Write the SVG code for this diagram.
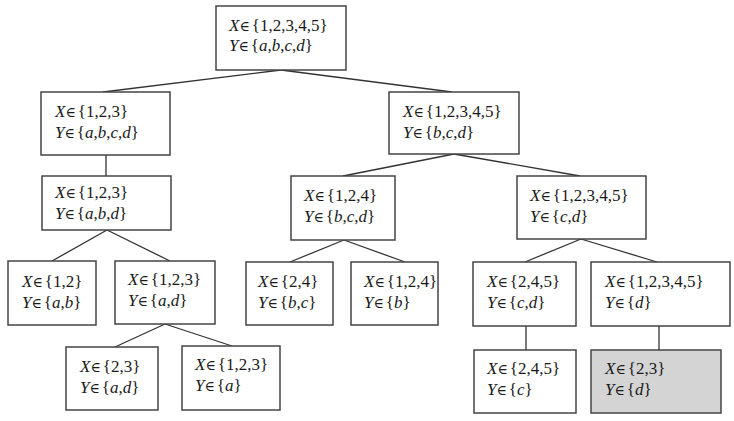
<svg xmlns="http://www.w3.org/2000/svg" width="734" height="421" viewBox="0 0 734 421">
<style>
.b{fill:#fff;stroke:#444;stroke-width:1.5}
.g{fill:#d4d4d4;stroke:#444;stroke-width:1.5}
.t{font-family:"Liberation Serif","Times New Roman",serif;font-size:17px;fill:#1a1a1a}
.i{font-style:italic}
.e{font-family:"DejaVu Serif",serif;font-size:14px}
.c line{stroke:#333;stroke-width:1.3}
</style>
<rect width="734" height="421" fill="#fff"/>
<g class="c" id="connectors">
<line x1="281" y1="70" x2="103" y2="92"/>
<line x1="281" y1="70" x2="452" y2="92"/>
<line x1="106" y1="155" x2="106" y2="176"/>
<line x1="454" y1="154" x2="343" y2="176"/>
<line x1="454" y1="154" x2="580" y2="176"/>
<line x1="107" y1="230" x2="52" y2="261"/>
<line x1="107" y1="230" x2="170" y2="261"/>
<line x1="344" y1="240" x2="290" y2="262"/>
<line x1="344" y1="240" x2="405" y2="262"/>
<line x1="581" y1="239" x2="525" y2="262"/>
<line x1="581" y1="239" x2="657" y2="262"/>
<line x1="165" y1="324" x2="115" y2="347"/>
<line x1="165" y1="324" x2="232" y2="346"/>
<line x1="526" y1="326" x2="526" y2="350"/>
<line x1="659" y1="326" x2="659" y2="350"/>
</g>
<g id="n0"><rect class="b" x="216" y="6" width="130" height="64"/>
<text class="t" x="229" y="31"><tspan class="i">X</tspan><tspan class="e">∈</tspan><tspan dx="2">{1,2,3,4,5}</tspan></text>
<text class="t" x="229" y="51"><tspan class="i">Y</tspan><tspan class="e">∈</tspan><tspan dx="2">{</tspan><tspan class="i">a</tspan>,<tspan class="i">b</tspan>,<tspan class="i">c</tspan>,<tspan class="i">d</tspan>}</text></g>
<g id="n1"><rect class="b" x="41" y="92" width="129" height="63"/>
<text class="t" x="55" y="117"><tspan class="i">X</tspan><tspan class="e">∈</tspan><tspan dx="2">{1,2,3}</tspan></text>
<text class="t" x="55" y="138"><tspan class="i">Y</tspan><tspan class="e">∈</tspan><tspan dx="2">{</tspan><tspan class="i">a</tspan>,<tspan class="i">b</tspan>,<tspan class="i">c</tspan>,<tspan class="i">d</tspan>}</text></g>
<g id="n2"><rect class="b" x="389" y="92" width="130" height="62"/>
<text class="t" x="403" y="117"><tspan class="i">X</tspan><tspan class="e">∈</tspan><tspan dx="2">{1,2,3,4,5}</tspan></text>
<text class="t" x="403" y="138"><tspan class="i">Y</tspan><tspan class="e">∈</tspan><tspan dx="2">{</tspan><tspan class="i">b</tspan>,<tspan class="i">c</tspan>,<tspan class="i">d</tspan>}</text></g>
<g id="n3"><rect class="b" x="42" y="176" width="129" height="54"/>
<text class="t" x="55" y="198"><tspan class="i">X</tspan><tspan class="e">∈</tspan><tspan dx="2">{1,2,3}</tspan></text>
<text class="t" x="55" y="219"><tspan class="i">Y</tspan><tspan class="e">∈</tspan><tspan dx="2">{</tspan><tspan class="i">a</tspan>,<tspan class="i">b</tspan>,<tspan class="i">d</tspan>}</text></g>
<g id="n4"><rect class="b" x="291" y="176" width="104" height="64"/>
<text class="t" x="304" y="201"><tspan class="i">X</tspan><tspan class="e">∈</tspan><tspan dx="2">{1,2,4}</tspan></text>
<text class="t" x="304" y="222"><tspan class="i">Y</tspan><tspan class="e">∈</tspan><tspan dx="2">{</tspan><tspan class="i">b</tspan>,<tspan class="i">c</tspan>,<tspan class="i">d</tspan>}</text></g>
<g id="n5"><rect class="b" x="517" y="176" width="129" height="63"/>
<text class="t" x="530" y="201"><tspan class="i">X</tspan><tspan class="e">∈</tspan><tspan dx="2">{1,2,3,4,5}</tspan></text>
<text class="t" x="530" y="222"><tspan class="i">Y</tspan><tspan class="e">∈</tspan><tspan dx="2">{</tspan><tspan class="i">c</tspan>,<tspan class="i">d</tspan>}</text></g>
<g id="n6"><rect class="b" x="8" y="261" width="88" height="64"/>
<text class="t" x="22" y="287"><tspan class="i">X</tspan><tspan class="e">∈</tspan><tspan dx="2">{1,2}</tspan></text>
<text class="t" x="22" y="308"><tspan class="i">Y</tspan><tspan class="e">∈</tspan><tspan dx="2">{</tspan><tspan class="i">a</tspan>,<tspan class="i">b</tspan>}</text></g>
<g id="n7"><rect class="b" x="115" y="261" width="100" height="63"/>
<text class="t" x="128" y="285"><tspan class="i">X</tspan><tspan class="e">∈</tspan><tspan dx="2">{1,2,3}</tspan></text>
<text class="t" x="128" y="306"><tspan class="i">Y</tspan><tspan class="e">∈</tspan><tspan dx="2">{</tspan><tspan class="i">a</tspan>,<tspan class="i">d</tspan>}</text></g>
<g id="n8"><rect class="b" x="246" y="262" width="87" height="63"/>
<text class="t" x="258" y="287"><tspan class="i">X</tspan><tspan class="e">∈</tspan><tspan dx="2">{2,4}</tspan></text>
<text class="t" x="258" y="308"><tspan class="i">Y</tspan><tspan class="e">∈</tspan><tspan dx="2">{</tspan><tspan class="i">b</tspan>,<tspan class="i">c</tspan>}</text></g>
<g id="n9"><rect class="b" x="351" y="262" width="87" height="63"/>
<text class="t" x="364" y="287"><tspan class="i">X</tspan><tspan class="e">∈</tspan><tspan dx="2">{1,2,4}</tspan></text>
<text class="t" x="364" y="308"><tspan class="i">Y</tspan><tspan class="e">∈</tspan><tspan dx="2">{</tspan><tspan class="i">b</tspan>}</text></g>
<g id="n10"><rect class="b" x="473" y="262" width="103" height="64"/>
<text class="t" x="487" y="287"><tspan class="i">X</tspan><tspan class="e">∈</tspan><tspan dx="2">{2,4,5}</tspan></text>
<text class="t" x="487" y="308"><tspan class="i">Y</tspan><tspan class="e">∈</tspan><tspan dx="2">{</tspan><tspan class="i">c</tspan>,<tspan class="i">d</tspan>}</text></g>
<g id="n11"><rect class="b" x="591" y="262" width="139" height="64"/>
<text class="t" x="605" y="287"><tspan class="i">X</tspan><tspan class="e">∈</tspan><tspan dx="2">{1,2,3,4,5}</tspan></text>
<text class="t" x="605" y="308"><tspan class="i">Y</tspan><tspan class="e">∈</tspan><tspan dx="2">{</tspan><tspan class="i">d</tspan>}</text></g>
<g id="n12"><rect class="b" x="66" y="347" width="92" height="63"/>
<text class="t" x="80" y="372"><tspan class="i">X</tspan><tspan class="e">∈</tspan><tspan dx="2">{2,3}</tspan></text>
<text class="t" x="80" y="393"><tspan class="i">Y</tspan><tspan class="e">∈</tspan><tspan dx="2">{</tspan><tspan class="i">a</tspan>,<tspan class="i">d</tspan>}</text></g>
<g id="n13"><rect class="b" x="182" y="346" width="98" height="64"/>
<text class="t" x="195" y="370"><tspan class="i">X</tspan><tspan class="e">∈</tspan><tspan dx="2">{1,2,3}</tspan></text>
<text class="t" x="195" y="391"><tspan class="i">Y</tspan><tspan class="e">∈</tspan><tspan dx="2">{</tspan><tspan class="i">a</tspan>}</text></g>
<g id="n14"><rect class="b" x="474" y="350" width="102" height="63"/>
<text class="t" x="487" y="374"><tspan class="i">X</tspan><tspan class="e">∈</tspan><tspan dx="2">{2,4,5}</tspan></text>
<text class="t" x="487" y="395"><tspan class="i">Y</tspan><tspan class="e">∈</tspan><tspan dx="2">{</tspan><tspan class="i">c</tspan>}</text></g>
<g id="n15"><rect class="g" x="591" y="350" width="130" height="63"/>
<text class="t" x="605" y="374"><tspan class="i">X</tspan><tspan class="e">∈</tspan><tspan dx="2">{2,3}</tspan></text>
<text class="t" x="605" y="395"><tspan class="i">Y</tspan><tspan class="e">∈</tspan><tspan dx="2">{</tspan><tspan class="i">d</tspan>}</text></g>
</svg>
